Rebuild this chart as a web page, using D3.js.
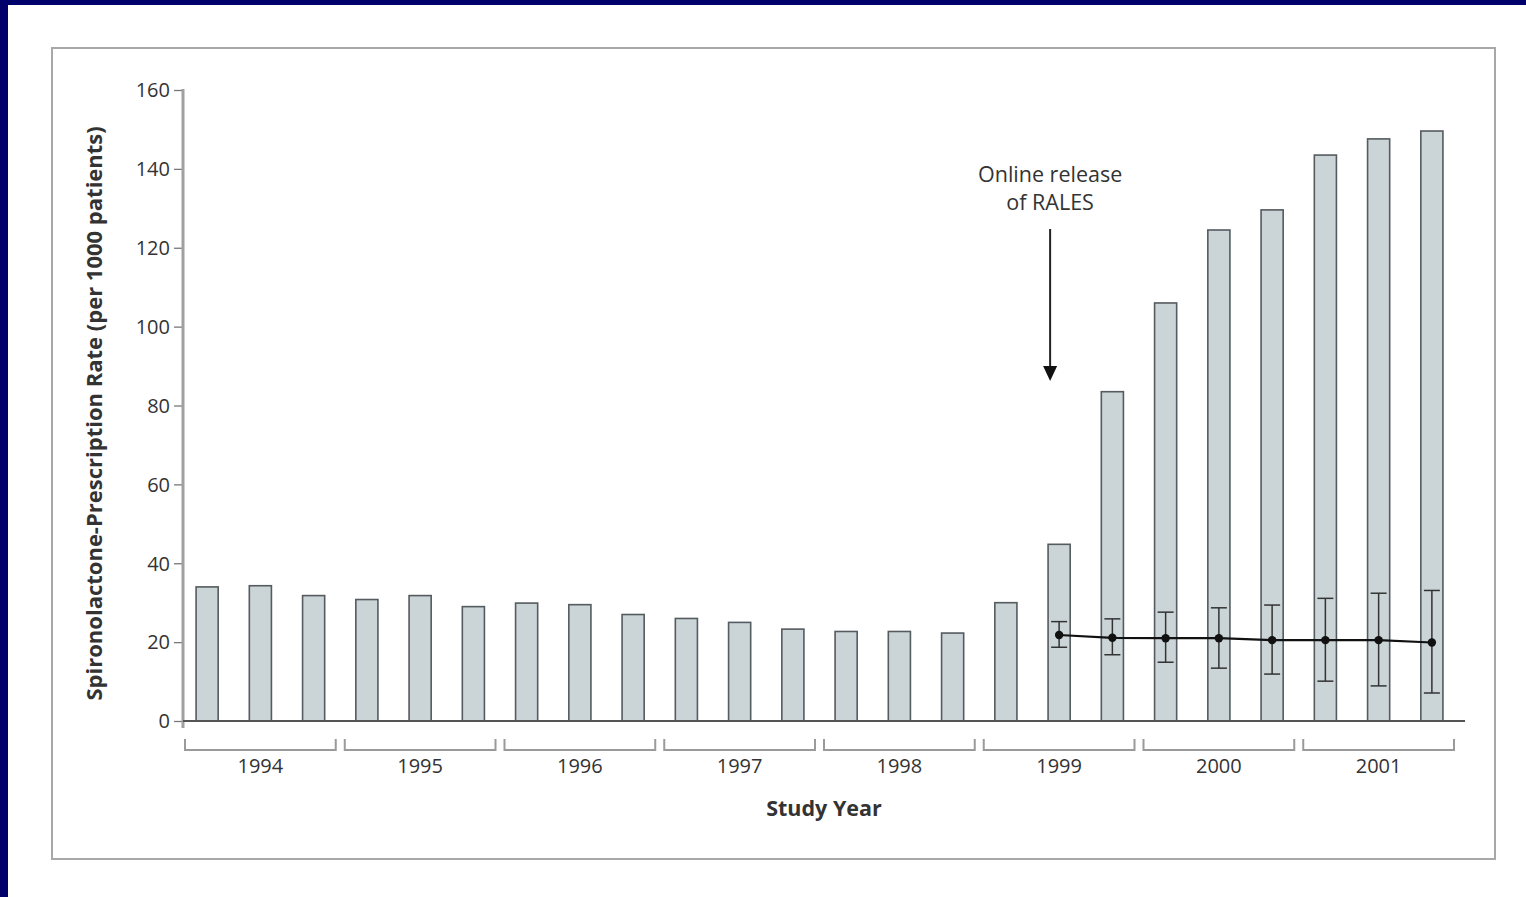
<!DOCTYPE html>
<html>
<head>
<meta charset="utf-8">
<script src="https://cdn.jsdelivr.net/npm/d3@7"></script>
<style>
  html, body { margin: 0; padding: 0; background: #fff; }
  svg { display: block; }
  text { font-family: "Open Sans", "Noto Sans", sans-serif; fill: #333; }
</style>
</head>
<body>
<svg id="chart" width="1526" height="897"></svg>
<script>
// Study years, each split into three periods
const years = ["1994", "1995", "1996", "1997", "1998", "1999", "2000", "2001"];
const periodsPerYear = 3;
const periods = years.flatMap(y => [1, 2, 3].map(p => `${y}-${p}`));

// Observed spironolactone-prescription rate per period (per 1000 patients)
const rates = [
  34.0, 34.3, 31.8,
  30.8, 31.8, 29.0,
  29.9, 29.5, 27.0,
  26.0, 25.0, 23.3,
  22.7, 22.7, 22.3,
  30.0, 44.8, 83.5,
  106.0, 124.5, 129.6,
  143.5, 147.6, 149.6
];

// Expected rate with 95% interval, from mid-1999 onward
const expectedPeriods = ["1999-2", "1999-3", "2000-1", "2000-2", "2000-3", "2001-1", "2001-2", "2001-3"];
const expected = [21.8, 21.1, 21.0, 21.0, 20.5, 20.5, 20.5, 19.9];
const expectedLow = [18.7, 16.8, 14.9, 13.4, 11.9, 10.1, 8.9, 7.1];
const expectedHigh = [25.2, 25.9, 27.6, 28.7, 29.4, 31.1, 32.4, 33.1];

const yTicks = [0, 20, 40, 60, 80, 100, 120, 140, 160];
const releasePeriod = "1999-2";

const svg = d3.select("#chart");

// Page frame: dark strip on the left and top edges
svg.append("rect").attr("x", 0).attr("y", 0).attr("width", 1526).attr("height", 897).attr("fill", "#fff");
svg.append("rect").attr("x", 0).attr("y", 0).attr("width", 8).attr("height", 897).attr("fill", "#01016b");
svg.append("rect").attr("x", 0).attr("y", 0).attr("width", 1526).attr("height", 5).attr("fill", "#01016b");

// Figure panel border
svg.append("rect")
  .attr("x", 52).attr("y", 48).attr("width", 1443).attr("height", 811)
  .attr("fill", "#fff").attr("stroke", "#a8a8a8").attr("stroke-width", 2);

const x = d3.scaleBand()
  .domain(periods)
  .range([180.5, 1458.5])
  .paddingInner(0.585)
  .paddingOuter(0.2925);

const y = d3.scaleLinear().domain([0, 160]).range([721, 90]);

const axisX = 183;

// Y axis
const yAxis = svg.append("g")
  .attr("transform", `translate(${axisX},0)`)
  .call(d3.axisLeft(y).tickValues(yTicks).tickSize(9).tickPadding(4));
yAxis.select(".domain").remove();
yAxis.selectAll(".tick line").attr("stroke", "#777").attr("stroke-width", 1.3);
yAxis.selectAll(".tick text")
  .style("font-size", "20px").style("fill", "#333")
  .attr("dy", "0.34em");
svg.append("line")
  .attr("x1", axisX).attr("x2", axisX)
  .attr("y1", y(160) - 1).attr("y2", y(0) + 7)
  .attr("stroke", "#a0a0a0").attr("stroke-width", 3);

// Bars
svg.append("g").selectAll("rect")
  .data(periods)
  .join("rect")
  .attr("x", d => x(d))
  .attr("width", x.bandwidth())
  .attr("y", (d, i) => y(rates[i]))
  .attr("height", (d, i) => y(0) - y(rates[i]))
  .attr("fill", "#cbd5d8")
  .attr("stroke", "#555b5e")
  .attr("stroke-width", 1.6);

// X baseline
svg.append("line")
  .attr("x1", axisX).attr("x2", 1465)
  .attr("y1", y(0)).attr("y2", y(0))
  .attr("stroke", "#555", ).attr("stroke-width", 2);

// Year brackets and labels
const step = x.step();
const bracketTop = 739, bracketBottom = 750;
const yearG = svg.append("g").selectAll("g")
  .data(years)
  .join("g");
yearG.append("path")
  .attr("d", (yr, i) => {
    const x0 = x(periods[i * periodsPerYear]) - (step - x.bandwidth()) / 2 + 4.5;
    const x1 = x(periods[i * periodsPerYear + periodsPerYear - 1]) + x.bandwidth() + (step - x.bandwidth()) / 2 - 4.5;
    return `M${x0},${bracketTop}V${bracketBottom}H${x1}V${bracketTop}`;
  })
  .attr("fill", "none")
  .attr("stroke", "#9a9a9a")
  .attr("stroke-width", 2);
yearG.append("text")
  .attr("x", (yr, i) => x(periods[i * periodsPerYear + 1]) + x.bandwidth() / 2)
  .attr("y", 773)
  .attr("text-anchor", "middle")
  .style("font-size", "20px")
  .text(d => d);

// Axis titles
svg.append("text")
  .attr("x", 824).attr("y", 816)
  .attr("text-anchor", "middle")
  .style("font-size", "21.5px").style("font-weight", "bold")
  .text("Study Year");
svg.append("text")
  .attr("transform", `translate(102,${y(78)}) rotate(-90)`)
  .attr("text-anchor", "middle")
  .style("font-size", "22px").style("font-weight", "bold")
  .text("Spironolactone-Prescription Rate (per 1000 patients)");

// Expected rate line with interval bars
const cx = p => x(p) + x.bandwidth() / 2;
const expG = svg.append("g");
expG.selectAll("g.err")
  .data(expectedPeriods)
  .join("g")
  .attr("class", "err")
  .each(function (p, i) {
    const g = d3.select(this);
    const c = cx(p);
    g.append("line").attr("x1", c).attr("x2", c)
      .attr("y1", y(expectedHigh[i])).attr("y2", y(expectedLow[i]))
      .attr("stroke", "#333").attr("stroke-width", 1.5);
    [expectedHigh[i], expectedLow[i]].forEach(v => {
      g.append("line").attr("x1", c - 8).attr("x2", c + 8)
        .attr("y1", y(v)).attr("y2", y(v))
        .attr("stroke", "#333").attr("stroke-width", 1.5);
    });
  });
expG.append("path")
  .datum(expectedPeriods)
  .attr("d", d3.line().x(p => cx(p)).y((p, i) => y(expected[i])))
  .attr("fill", "none")
  .attr("stroke", "#111")
  .attr("stroke-width", 2.2);
expG.selectAll("circle")
  .data(expectedPeriods)
  .join("circle")
  .attr("cx", p => cx(p))
  .attr("cy", (p, i) => y(expected[i]))
  .attr("r", 4.2)
  .attr("fill", "#111");

// Annotation arrow marking the trial publication
const ax = cx(releasePeriod) - 9;
svg.append("line")
  .attr("x1", ax).attr("x2", ax)
  .attr("y1", 229).attr("y2", 370)
  .attr("stroke", "#222").attr("stroke-width", 2);
svg.append("path")
  .attr("d", `M${ax - 7},366L${ax + 7},366L${ax},381Z`)
  .attr("fill", "#111");
const note = svg.append("text")
  .attr("text-anchor", "middle")
  .style("font-size", "21.5px");
note.append("tspan").attr("x", ax).attr("y", 182).text("Online release");
note.append("tspan").attr("x", ax).attr("y", 210).text("of RALES");
</script>
</body>
</html>
